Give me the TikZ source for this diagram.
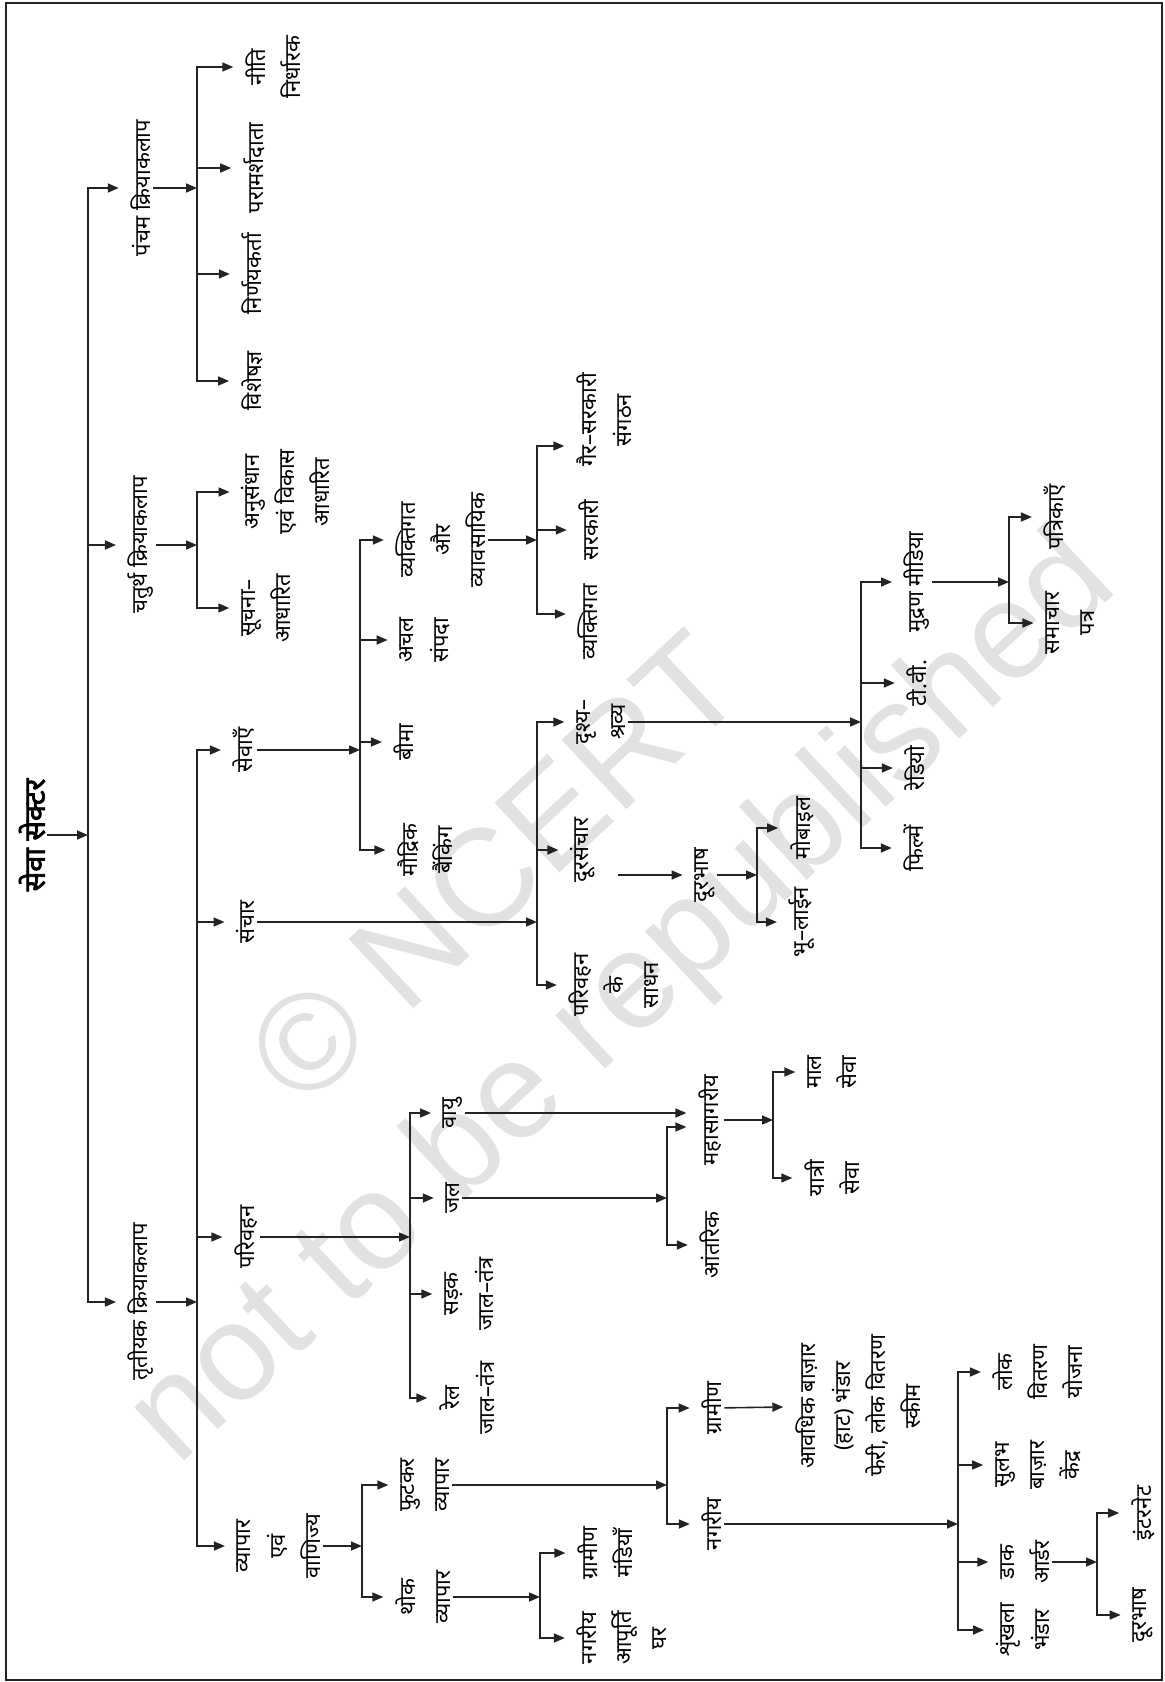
\documentclass[tikz,border=0pt]{standalone}
\usepackage{fontspec}
\usetikzlibrary{arrows.meta}
\newfontfamily\hindi[Script=Devanagari]{Noto Sans}
\newfontfamily\hindibold[Script=Devanagari,FakeBold=2.5]{Noto Sans}
\newfontfamily\wmfont{Liberation Sans}
\definecolor{lineGray}{RGB}{35,35,35}
\definecolor{markGray}{RGB}{226,226,226}
\tikzset{
  term/.style={rotate=90, align=center, inner sep=2pt, font=\hindi\fontsize{22}{35}\selectfont},
  head/.style={rotate=90, inner sep=2pt, font=\hindibold\fontsize{29}{34}\selectfont},
  arrow/.style={-{Triangle[length=11pt,width=9pt]}, line width=1.6pt, draw=lineGray},
  branch/.style={arrow, shorten >=10pt},
  wmark/.style={rotate=43, text=markGray, font=\wmfont\fontsize{138}{138}\selectfont},
  frame/.style={draw=lineGray, line width=2pt}
}

\begin{document}
\begin{tikzpicture}[x=1pt,y=-1pt]
  \useasboundingbox (0,0) rectangle (1165,1682);
  \node[wmark] (wm1) at (495,868) {© NCERT};
  \node[wmark] (wm2) at (625,1002) {not to be republished};
  \draw[frame] (6,3) rectangle (1162,1680);

  \node[head] (title) at (32,835) {सेवा सेक्टर};
  \coordinate (trunk) at (88,835);
  \node[term] (quin) at (141,188) {पंचम क्रियाकलाप};
  \node[term] (quat) at (141,545) {चतुर्थ क्रियाकलाप};
  \node[term] (tert) at (141,1302) {तृतीयक क्रियाकलाप};

  % quinary
  \coordinate (bquin) at (197,188);
  \node[term] (policy) at (273,67) {नीति\\निर्धारक};
  \node[term] (advisor) at (254,168) {परामर्शदाता};
  \node[term] (decider) at (252,274) {निर्णयकर्ता};
  \node[term] (expert) at (252,381) {विशेषज्ञ};

  % quaternary
  \coordinate (bquat) at (197,545);
  \node[term] (research) at (286,492) {अनुसंधान\\एवं विकास\\आधारित};
  \node[term] (info) at (266,608) {सूचना–\\आधारित};

  % tertiary
  \coordinate (btert) at (197,1302);
  \node[term] (services) at (244,750) {सेवाएँ};
  \node[term] (comm) at (246,922) {संचार};
  \node[term] (transport) at (246,1237) {परिवहन};
  \node[term] (trade) at (279,1546) {व्यापार\\एवं\\वाणिज्य};

  % services
  \coordinate (bserv) at (360,750);
  \node[term] (personal) at (441,540) {व्यक्तिगत\\और\\व्यावसायिक};
  \node[term] (estate) at (425,640) {अचल\\संपदा};
  \node[term] (insurance) at (404,742) {बीमा};
  \node[term] (banking) at (425,850) {मौद्रिक\\बैंकिंग};
  \coordinate (bpers) at (537,540);
  \node[term] (ngo) at (604,420) {गैर–सरकारी\\संगठन};
  \node[term] (govt) at (589,530) {सरकारी};
  \node[term] (private) at (588,622) {व्यक्तिगत};

  % communication
  \coordinate (bcomm) at (537,922);
  \node[term] (av) at (601,722) {दृश्य–\\श्रव्य};
  \node[term] (telecom) at (583,850) {दूरसंचार};
  \node[term] (vehicle) at (614,985) {परिवहन\\के\\साधन};
  \node[term] (tele) at (705,875) {दूरभाष};
  \coordinate (btele) at (757,875);
  \node[term] (mobile) at (802,828) {मोबाइल};
  \node[term] (landline) at (802,922) {भू–लाईन};
  \coordinate (bav) at (861,722);
  \node[term] (print) at (917,582) {मुद्रण मीडिया};
  \node[term] (tv) at (917,683) {टी.वी.};
  \node[term] (radio) at (915,768) {रेडियो};
  \node[term] (films) at (914,848) {फिल्में};
  \coordinate (bprint) at (1009,582);
  \node[term] (magazines) at (1055,517) {पत्रिकाएँ};
  \node[term] (newspaper) at (1070,623) {समाचार\\पत्र};

  % transport
  \coordinate (btrans) at (410,1237);
  \node[term] (air) at (453,1113) {वायु};
  \node[term] (water) at (453,1198) {जल};
  \node[term] (road) at (469,1294) {सड़क\\जाल–तंत्र};
  \node[term] (rail) at (467,1398) {रेल\\जाल–तंत्र};
  \coordinate (bwater) at (667,1198);
  \node[term] (ocean) at (710,1120) {महासागरीय};
  \node[term] (inland) at (710,1245) {आंतरिक};
  \coordinate (bocean) at (773,1120);
  \node[term] (cargo) at (832,1072) {माल\\सेवा};
  \node[term] (passenger) at (832,1178) {यात्री\\सेवा};

  % trade
  \coordinate (btrade) at (362,1546);
  \node[term] (retail) at (425,1485) {फुटकर\\व्यापार};
  \node[term] (wholesale) at (423,1597) {थोक\\व्यापार};
  \coordinate (bwhole) at (540,1597);
  \node[term] (ruralmandi) at (605,1553) {ग्रामीण\\मंडियाँ};
  \node[term] (urbansupply) at (622,1638) {नगरीय\\आपूर्ति\\घर};
  \coordinate (bretail) at (667,1485);
  \node[term] (rural) at (712,1408) {ग्रामीण};
  \node[term] (urban) at (712,1524) {नगरीय};
  \node[term] (haat) at (858,1406) {आवधिक बाज़ार\\(हाट) भंडार\\फेरी, लोक वितरण\\स्कीम};
  \coordinate (burban) at (958,1524);
  \node[term] (pds) at (1038,1372) {लोक\\वितरण\\योजना};
  \node[term] (fairprice) at (1038,1465) {सुलभ\\बाज़ार\\केंद्र};
  \node[term] (mailorder) at (1025,1562) {डाक\\आर्डर};
  \node[term] (chain) at (1023,1630) {शृंखला\\भंडार};
  \coordinate (bmail) at (1097,1562);
  \node[term] (internet) at (1143,1513) {इंटरनेट};
  \node[term] (phone) at (1143,1615) {दूरभाष};

  \draw[arrow] (title) -- (trunk);
  \draw[branch] (trunk) |- (quin);
  \draw[branch] (trunk) |- (quat);
  \draw[branch] (trunk) |- (tert);

  \draw[arrow] (quin) -- (bquin);
  \draw[branch] (bquin) |- (policy);
  \draw[branch] (bquin) |- (advisor);
  \draw[branch] (bquin) |- (decider);
  \draw[branch] (bquin) |- (expert);

  \draw[arrow] (quat) -- (bquat);
  \draw[branch] (bquat) |- (research);
  \draw[branch] (bquat) |- (info);

  \draw[arrow] (tert) -- (btert);
  \draw[branch] (btert) |- (services);
  \draw[branch] (btert) |- (comm);
  \draw[branch] (btert) |- (transport);
  \draw[branch] (btert) |- (trade);

  \draw[arrow] (services) -- (bserv);
  \draw[branch] (bserv) |- (personal);
  \draw[branch] (bserv) |- (estate);
  \draw[branch] (bserv) |- (insurance);
  \draw[branch] (bserv) |- (banking);
  \draw[arrow] (personal) -- (bpers);
  \draw[branch] (bpers) |- ([yshift=-26pt]ngo.north);
  \draw[branch] (bpers) |- (govt);
  \draw[branch] (bpers) |- ([yshift=8pt]private.north);

  \draw[arrow] (comm) -- (bcomm);
  \draw[branch] (bcomm) |- (av);
  \draw[branch] (bcomm) |- (telecom);
  \draw[branch] (bcomm) |- (vehicle);
  \draw[branch, shorten <=20pt] (telecom.south |- tele) -- (tele);
  \draw[arrow] (tele) -- (btele);
  \draw[branch] (btele) |- (mobile);
  \draw[branch] (btele) |- (landline);
  \draw[arrow] (av) -- (bav);
  \draw[branch] (bav) |- (print);
  \draw[branch] (bav) |- (tv);
  \draw[branch] (bav) |- (radio);
  \draw[branch] (bav) |- (films);
  \draw[arrow] (print) -- (bprint);
  \draw[branch] (bprint) |- (magazines);
  \draw[branch] (bprint) |- (newspaper);

  \draw[arrow] (transport) -- (btrans);
  \draw[branch] (btrans) |- (air);
  \draw[branch] (btrans) |- (water);
  \draw[branch] (btrans) |- (road);
  \draw[branch] (btrans) |- (rail);
  \draw[branch] (air) -- (air -| ocean.north);
  \draw[arrow] (water) -- (bwater);
  \draw[branch] (bwater) |- ([yshift=-7pt]ocean.north);
  \draw[branch] (bwater) |- (inland);
  \draw[arrow] (ocean) -- (bocean);
  \draw[branch] (bocean) |- (cargo);
  \draw[branch] (bocean) |- (passenger);

  \draw[arrow] (trade) -- (btrade);
  \draw[branch] (btrade) |- (retail);
  \draw[branch] (btrade) |- (wholesale);
  \draw[arrow] (wholesale) -- (bwhole);
  \draw[branch] (bwhole) |- (ruralmandi);
  \draw[branch] (bwhole) |- (urbansupply);
  \draw[arrow] (retail) -- (bretail);
  \draw[branch] (bretail) |- (rural);
  \draw[branch] (bretail) |- (urban);
  \draw[branch] (rural) -- (haat);
  \draw[arrow] (urban) -- (burban);
  \draw[branch] (burban) |- (pds);
  \draw[branch] (burban) |- (fairprice);
  \draw[branch] (burban) |- (mailorder);
  \draw[branch] (burban) |- (chain);
  \draw[arrow] (mailorder) -- (bmail);
  \draw[branch] (bmail) |- (internet);
  \draw[branch] (bmail) |- (phone);
\end{tikzpicture}
\end{document}
